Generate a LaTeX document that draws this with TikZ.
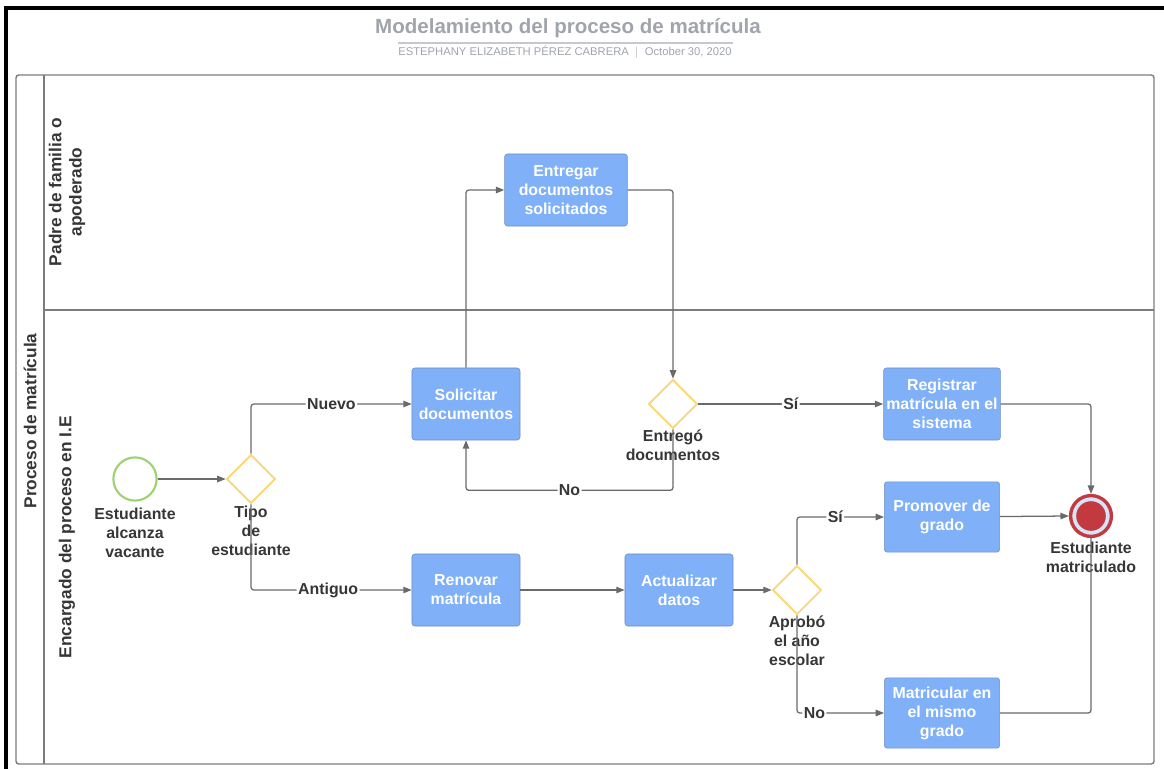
\documentclass[tikz,border=0pt]{standalone}
\usepackage{fontspec}
\setmainfont{Liberation Sans}
\usetikzlibrary{arrows.meta,positioning,shapes.geometric,calc}

\definecolor{taskblue}{HTML}{7FB0F8}
\definecolor{taskedge}{HTML}{7090C0}
\definecolor{linegray}{HTML}{6A6A6A}
\definecolor{lanegray}{HTML}{7C7C7C}
\definecolor{txtdark}{HTML}{363636}
\definecolor{titlegray}{HTML}{A0A4AC}
\definecolor{startgreen}{HTML}{9DD270}
\definecolor{gwyellow}{HTML}{F8D878}
\definecolor{endred}{HTML}{C23A3F}
\definecolor{endring}{HTML}{D7E4F8}

\begin{document}
\begin{tikzpicture}[x=0.025cm, y=-0.025cm,
  >={Triangle[length=6pt,width=4.6pt]},
  font=\fontsize{11.3}{13.5}\selectfont\bfseries,
  task/.style={draw=taskedge, fill=taskblue, rounded corners=2pt, text=white,
               minimum width=2.7cm, minimum height=1.8cm, align=center, inner sep=2pt},
  gw/.style={diamond, draw=gwyellow, line width=1.3pt, minimum size=1.22cm, inner sep=0pt},
  startev/.style={circle, draw=startgreen, line width=1.5pt, minimum size=1.08cm, inner sep=0pt},
  endev/.style={circle, draw=endred, line width=2.4pt, fill=endring, minimum size=1.02cm,
                inner sep=0pt, path picture={\fill[endred] (path picture bounding box.center) circle (0.37cm);}},
  lbl/.style={text=txtdark, align=center, inner sep=0pt},
  elab/.style={text=txtdark, fill=white, inner sep=1pt},
  flow/.style={draw=linegray, line width=0.9pt, rounded corners=2pt},
  lanetxt/.style={text=txtdark, rotate=90, align=center, font=\fontsize{12.3}{14.5}\selectfont\bfseries},
]
\useasboundingbox (0,0) rectangle (1164,769);

% frame and title
\draw[line width=2.2pt] (6,769) -- (6,8) -- (1164,8);
\node[text=titlegray, font=\fontsize{14.6}{16}\selectfont\bfseries] (title) at (568,28) {Modelamiento del proceso de matrícula};
\draw[titlegray!60, line width=0.8pt] (398,43) -- (733,43);
\node[text=titlegray, font=\fontsize{8}{9}\selectfont] (sub) at (565,52) {ESTEPHANY ELIZABETH PÉREZ CABRERA \ $|$ \ October 30, 2020};

% pool and lanes
\draw[lanegray, line width=1pt, rounded corners=2pt] (16,75) rectangle (1154,764);
\draw[lanegray, line width=1pt] (44,75) -- (44,764);
\draw[lanegray, line width=1pt] (44,310) -- (1154,310);
\node[lanetxt] (pool) at (30,421) {Proceso de matrícula};
\node[lanetxt] (lane1) at (67,192) {Padre de familia o\\apoderado};
\node[lanetxt] (lane2) at (67,537) {Encargado del proceso en I.E};

% events and gateways
\node[startev] (ini) at (135,479) {};
\node[lbl, below=0.14cm of ini] (inilbl) {Estudiante\\alcanza\\vacante};
\node[gw] (tipo) at (251,479) {};
\node[lbl, below=0.04cm of tipo] (tipolbl) {Tipo\\de\\estudiante};
\node[gw] (entrego) at (673,404) {};
\node[lbl, below=0pt of entrego] (entregolbl) {Entregó\\documentos};
\node[gw] (aprobo) at (797,590) {};
\node[lbl, below=0pt of aprobo] (aprobolbl) {Aprobó\\el año\\escolar};
\node[endev] (fin) at (1091,516) {};
\node[lbl, below=0.08cm of fin] (finlbl) {Estudiante\\matriculado};

% tasks
\node[task] (sol) at (466,404) {Solicitar\\documentos};
\node[task, minimum width=3.07cm] (entr) at (566,190) {Entregar\\documentos\\solicitados};
\node[task, minimum width=2.88cm] (reg) at (942,404) {Registrar\\matrícula en el\\sistema};
\node[task] (renov) at (466,590) {Renovar\\matrícula};
\node[task] (actu) at (679,590) {Actualizar\\datos};
\node[task, minimum width=2.88cm, minimum height=1.76cm] (prom) at (942,517) {Promover de\\grado};
\node[task, minimum width=2.88cm, minimum height=1.76cm] (mat) at (942,713) {Matricular en\\el mismo\\grado};

% flows
\draw[flow, ->] (ini) -- (tipo.west);
\draw[flow, ->] (tipo.north) |- node[elab, pos=0.75]{Nuevo} (sol.west);
\draw[flow, ->] (tipo.south) |- node[elab, pos=0.74]{Antiguo} (renov.west);
\draw[flow, ->] (sol.north) |- (entr.west);
\draw[flow, ->] (entr.east) -| (entrego.north);
\draw[flow, ->] (entrego.south) -- ++(0,61) -| node[elab, pos=0.25]{No} (sol.south);
\draw[flow, ->] (entrego.east) -- node[elab]{Sí} (reg.west);
\draw[flow, ->] (reg.east) -| (fin.north);
\draw[flow, ->] (renov) -- (actu);
\draw[flow, ->] (actu) -- (aprobo.west);
\draw[flow, ->] (aprobo.north) |- node[elab, pos=0.72]{Sí} (prom.west);
\draw[flow, ->] (aprobo.south) |- node[elab, pos=0.6]{No} (mat.west);
\draw[flow, ->] (prom) -- (fin.west);
\draw[flow] (mat.east) -| (fin.south);
\end{tikzpicture}
\end{document}
